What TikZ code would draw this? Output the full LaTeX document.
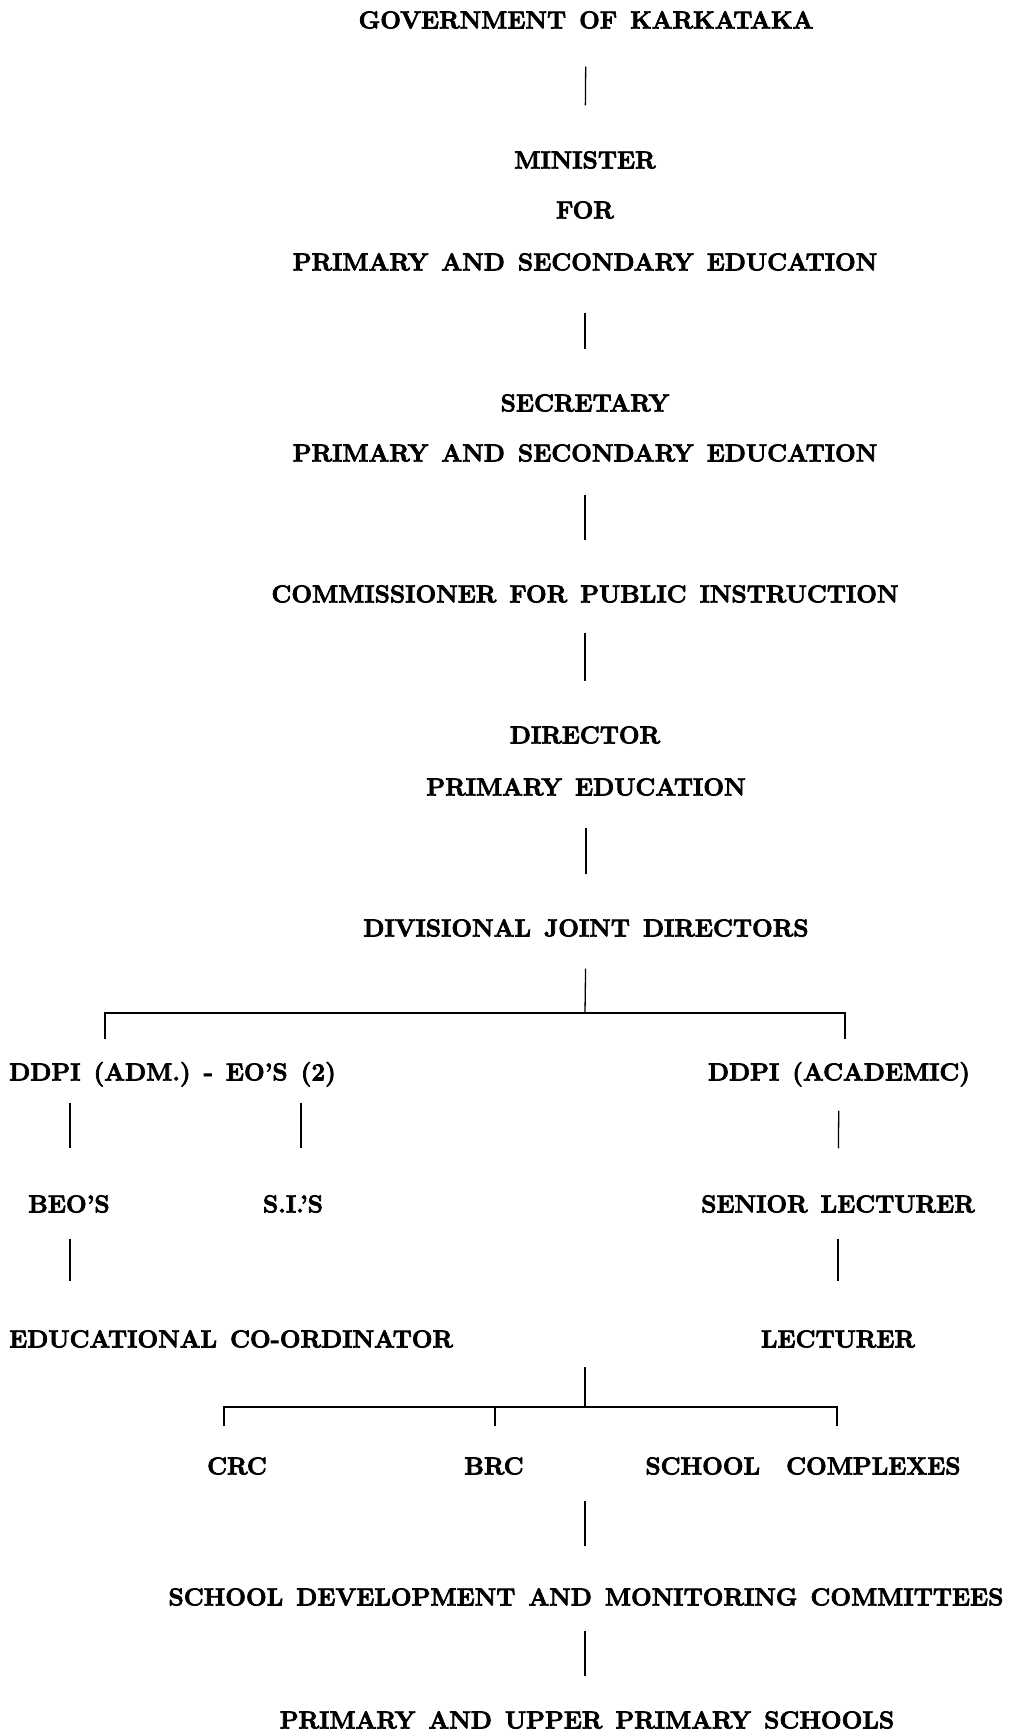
\documentclass[tikz,border=0pt]{standalone}
\usepackage{fontspec}
\setmainfont{Latin Modern Roman}[BoldFeatures={FakeBold=3}]
\newcommand\orgfont{\fontsize{24.5}{28}\selectfont\bfseries\setlength{\spaceskip}{13pt}}
\begin{document}
\begin{tikzpicture}[x=1pt,y=-1pt,
  lbl/.style={inner sep=0pt, text height=16.8pt, text depth=0pt, font=\orgfont},
  conn/.style={line width=1.3pt},
  barline/.style={line width=1.8pt}]
\useasboundingbox (0,0) rectangle (1010,1732);
\node[lbl] (gov) at (586,20) {GOVERNMENT OF KARKATAKA};
\node[lbl] (min) at (585,160) {MINISTER};
\node[lbl] (for) at (585,210) {FOR};
\node[lbl] (pse1) at (585,262) {PRIMARY AND SECONDARY EDUCATION};
\node[lbl] (sec) at (585,403) {SECRETARY};
\node[lbl] (pse2) at (585,453) {PRIMARY AND SECONDARY EDUCATION};
\node[lbl] (comm) at (585,594) {COMMISSIONER FOR PUBLIC INSTRUCTION};
\node[lbl] (dir) at (585,735) {DIRECTOR};
\node[lbl] (pe) at (586,787) {PRIMARY EDUCATION};
\node[lbl] (div) at (586,928) {DIVISIONAL JOINT DIRECTORS};
\node[lbl, anchor=west] (ddpiadm) at (9,1072) {DDPI (ADM.) - EO'S (2)};
\node[lbl] (ddpiac) at (839,1072) {DDPI (ACADEMIC)};
\node[lbl] (beo) at (69,1204) {BEO'S};
\node[lbl] (si) at (293,1204) {S.I.'S};
\node[lbl] (sl) at (838,1204) {SENIOR LECTURER};
\node[lbl, anchor=west] (edu) at (9,1339) {EDUCATIONAL CO-ORDINATOR};
\node[lbl] (lec) at (838,1339) {LECTURER};
\node[lbl] (crc) at (237,1466) {CRC};
\node[lbl] (brc) at (494,1466) {BRC};
\node[lbl] (sc) at (803,1466) {SCHOOL\hspace{26pt}COMPLEXES};
\node[lbl] (sdmc) at (586,1597) {SCHOOL DEVELOPMENT AND MONITORING COMMITTEES};
\node[lbl] (pups) at (587,1720) {PRIMARY AND UPPER PRIMARY SCHOOLS};
% simple vertical connectors
\draw[conn, shorten <=38pt, shorten >=46pt] (gov.south) -- (min.north);
\draw[conn, shorten <=42pt, shorten >=45pt] (pse1.south) -- (sec.north);
\draw[conn, shorten <=33pt, shorten >=45pt] (pse2.south) -- (comm.north);
\draw[conn, shorten <=30pt, shorten >=45pt] (comm.south) -- (dir.north);
\draw[conn, shorten <=32pt, shorten >=45pt] (pe.south) -- (div.north);
% first branch
\coordinate (bar1) at (585,1013);
\coordinate (t1L) at (105,1039);
\coordinate (t1R) at (845,1039);
\draw[conn, shorten <=32pt] (div.south) -- (bar1);
\draw[barline] (t1L) |- (bar1) -| (t1R);
% left and right columns
\draw[conn, shorten <=22pt, shorten >=47pt] ([xshift=1pt]beo.north |- ddpiadm.south) -- ([xshift=1pt]beo.north);
\draw[conn, shorten <=22pt, shorten >=47pt] ([xshift=8pt]si.north |- ddpiadm.south) -- ([xshift=8pt]si.north);
\draw[conn, shorten <=30pt, shorten >=47pt] (ddpiac.south) -- (sl.north);
\draw[conn, shorten <=26pt, shorten >=49pt] ([xshift=1pt]beo.south) -- ([xshift=1pt]beo.south |- edu.north);
\draw[conn, shorten <=26pt, shorten >=49pt] (sl.south) -- (lec.north);
% second branch
\coordinate (b2top) at (585,1367);
\coordinate (bar2) at (585,1407);
\coordinate (t2L) at (224,1426);
\coordinate (t2M) at (495,1426);
\coordinate (t2R) at (837,1426);
\draw[conn] (b2top) -- (bar2);
\draw[barline] (t2L) |- (bar2) -| (t2R);
\draw[conn] (t2M) -- (t2M |- bar2);
% bottom
\draw[conn, shorten <=42pt, shorten >=26pt] ([xshift=-1pt]sdmc.north) -- ([xshift=-1pt]sdmc.north |- sc.south);
\draw[conn, shorten <=25pt, shorten >=35pt] ([xshift=-1pt]sdmc.south) -- ([xshift=-1pt]sdmc.south |- pups.north);
\end{tikzpicture}
\end{document}
